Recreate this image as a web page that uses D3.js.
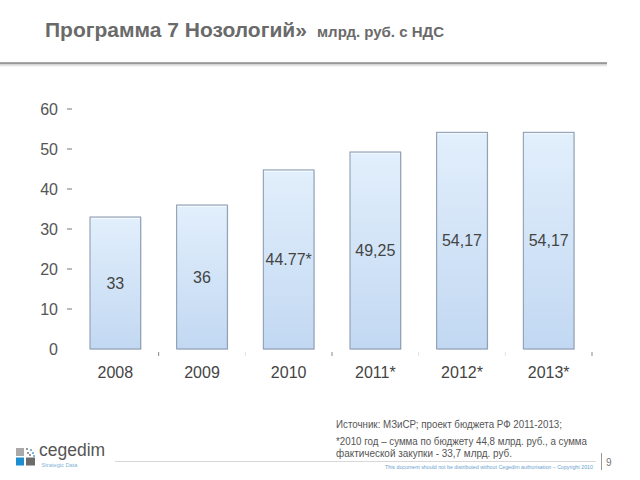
<!DOCTYPE html>
<html><head><meta charset="utf-8">
<script src="https://cdn.jsdelivr.net/npm/d3@7/dist/d3.min.js"></script>
<style>
html,body{margin:0;padding:0;background:#fff;}
svg{display:block;font-family:"Liberation Sans",Arial,sans-serif;}
</style></head>
<body>
<svg id="c" width="640" height="480"></svg>
<script>
const categories = ["2008","2009","2010","2011*","2012*","2013*"];
const values = [33, 36, 44.77, 49.25, 54.17, 54.17];
const valueLabels = ["33","36","44.77*","49,25","54,17","54,17"];
const yTicks = [0,10,20,30,40,50,60];
const title = "Программа 7 Нозологий»";
const subtitle = "млрд. руб. с НДС";
const notes = ["Источник: МЗиСР; проект бюджета РФ 2011-2013;",
  "*2010 год – сумма по бюджету 44,8 млрд. руб., а сумма",
  "фактической закупки  - 33,7 млрд. руб."];

const svg = d3.select("#c");
const defs = svg.append("defs");
const g1 = defs.append("linearGradient").attr("id","barg").attr("x1",0).attr("y1",0).attr("x2",0).attr("y2",1);
g1.append("stop").attr("offset","0%").attr("stop-color","#e2effc");
g1.append("stop").attr("offset","100%").attr("stop-color","#c2d8f2");
const g2 = defs.append("linearGradient").attr("id","lineshadow").attr("x1",0).attr("y1",0).attr("x2",0).attr("y2",1);
g2.append("stop").attr("offset","0%").attr("stop-color","#bbb");
g2.append("stop").attr("offset","100%").attr("stop-color","#fff");

// Title
const t = svg.append("text").attr("x",45).attr("y",37).attr("fill","#6a6a6a").attr("font-weight","bold");
t.append("tspan").attr("font-size",21).text(title);
t.append("tspan").attr("x",317).attr("font-size",15).text(subtitle);
svg.append("rect").attr("x",0).attr("y",63).attr("width",607).attr("height",4).attr("fill","url(#lineshadow)");
svg.append("line").attr("x1",0).attr("x2",607).attr("y1",63).attr("y2",63).attr("stroke","#8a8a8a").attr("stroke-width",1.5);

// Scales
const x = d3.scaleBand().domain(categories).range([72,592]).paddingInner(0.415).paddingOuter(0.2075);
const y = d3.scaleLinear().domain([0,60]).range([349,109]);

// Y axis
const yAxis = d3.axisLeft(y).tickValues(yTicks).tickSize(0).tickPadding(0).tickFormat(d3.format("d"));
const ya = svg.append("g").attr("transform","translate(58,0)").call(yAxis);
ya.select(".domain").remove();
ya.selectAll("text").attr("font-size",16).attr("fill","#555").attr("font-family","Liberation Sans, Arial, sans-serif").attr("dy","0.35em");
svg.append("g").selectAll("line").data(yTicks.filter(d=>d>0)).join("line")
  .attr("x1",67).attr("x2",72).attr("y1",d=>y(d)).attr("y2",d=>y(d))
  .attr("stroke","#777").attr("stroke-width",1);

// X axis
const xAxis = d3.axisBottom(x).tickSize(0).tickPadding(0);
const xa = svg.append("g").attr("transform","translate(0,378)").call(xAxis);
xa.select(".domain").remove();
xa.selectAll("text").attr("font-size",16).attr("fill","#444").attr("font-family","Liberation Sans, Arial, sans-serif").attr("dy","0");
// boundary ticks
const bounds = categories.map(c => x(c) - x.step()*x.paddingInner()/2).slice(1).concat([x(categories[5]) + x.bandwidth() + x.step()*x.paddingInner()/2]);
svg.append("g").selectAll("line").data(bounds).join("line")
  .attr("x1",d=>d).attr("x2",d=>d).attr("y1",352).attr("y2",356)
  .attr("stroke",(d,i)=> (i===0||i===2||i===5) ? "#888" : "#e4e4e4").attr("stroke-width",1);

// Bars
const bars = svg.append("g");
bars.selectAll("rect.shadow").data(values).join("rect").attr("class","shadow")
  .attr("x",(d,i)=>x(categories[i])+1).attr("y",d=>y(d)+1)
  .attr("width",x.bandwidth()).attr("height",d=>y(0)-y(d))
  .attr("fill","#e6ebf1");
bars.selectAll("rect.bar").data(values).join("rect").attr("class","bar")
  .attr("x",(d,i)=>x(categories[i])).attr("y",d=>y(d))
  .attr("width",x.bandwidth()).attr("height",d=>y(0)-y(d))
  .attr("fill","url(#barg)").attr("stroke","#8796ab").attr("stroke-width",1);
bars.selectAll("line.top").data(values).join("line").attr("class","top")
  .attr("x1",(d,i)=>x(categories[i])+1).attr("x2",(d,i)=>x(categories[i])+x.bandwidth()-1)
  .attr("y1",d=>y(d)+1.5).attr("y2",d=>y(d)+1.5).attr("stroke","#f4f9ff").attr("stroke-width",1);
bars.selectAll("text").data(values).join("text")
  .attr("x",(d,i)=>x(categories[i])+x.bandwidth()/2)
  .attr("y",d=>(y(d)+y(0))/2).attr("dy","0.35em")
  .attr("text-anchor","middle").attr("font-size",16).attr("fill","#444")
  .text((d,i)=>valueLabels[i]);

// Footer notes
const noteW = [226, 251, 176];
const noteY = [428, 445, 457];
svg.append("g").selectAll("text").data(notes).join("text")
  .attr("x",336).attr("y",(d,i)=>noteY[i]).attr("font-size",10).attr("fill","#555")
  .attr("textLength",(d,i)=>noteW[i]).attr("lengthAdjust","spacingAndGlyphs").text(d=>d);
svg.append("line").attr("x1",115).attr("x2",596).attr("y1",461.5).attr("y2",461.5).attr("stroke","#d8d8d8").attr("stroke-width",1);
svg.append("text").attr("x",385).attr("y",469).attr("font-size",4.5).attr("fill","#6a9fd0")
  .attr("textLength",208).attr("lengthAdjust","spacingAndGlyphs")
  .text("This document should not be distributed without Cegedim authorisation – Copyright 2010");
svg.append("line").attr("x1",601.5).attr("x2",601.5).attr("y1",453).attr("y2",470).attr("stroke","#999").attr("stroke-width",1);
svg.append("text").attr("x",606).attr("y",466).attr("font-size",10).attr("fill","#777").text("9");

// Logo
const logo = svg.append("g");
logo.append("rect").attr("x",16).attr("y",448).attr("width",8).attr("height",8).attr("fill","#a9a9a9");
logo.append("rect").attr("x",16).attr("y",457.5).attr("width",8).attr("height",8).attr("fill","#1b8fcf");
logo.append("rect").attr("x",26).attr("y",457.5).attr("width",9).attr("height",8).attr("fill","#6b6b6b");
[[26,448],[30,449],[27,452],[32,452],[29,454],[33,455]].forEach((p,i)=>logo.append("rect").attr("x",p[0]).attr("y",p[1]).attr("width",2).attr("height",2).attr("fill",i%2?"#7fb7dd":"#9a9a9a"));
logo.append("text").attr("x",39).attr("y",456).attr("font-size",17.5).attr("fill","#555").text("cegedim");
logo.append("text").attr("x",41.5).attr("y",467).attr("font-size",5.5).attr("fill","#7fb3d6")
  .attr("textLength",36).attr("lengthAdjust","spacingAndGlyphs").text("Strategic Data");
</script>
</body></html>
